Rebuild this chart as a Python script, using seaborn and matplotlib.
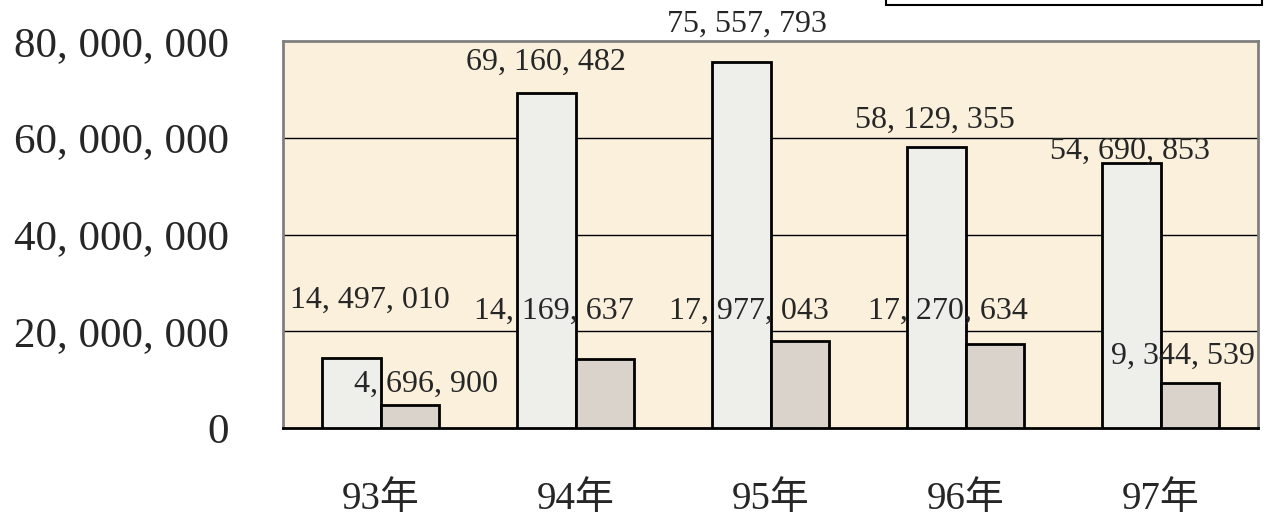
import pandas as pd
import matplotlib.pyplot as plt
import seaborn as sns
from matplotlib.patches import Rectangle

# 資料
years = ['93年', '94年', '95年', '96年', '97年']
series_a = [14497010, 69160482, 75557793, 58129355, 54690853]
series_b = [4696900, 14169637, 17977043, 17270634, 9344539]
yticks = [0, 20000000, 40000000, 60000000, 80000000]

df = pd.DataFrame({
    'year': years * 2,
    'value': series_a + series_b,
    'series': ['A'] * 5 + ['B'] * 5,
})

def fmt(v):
    return f'{v:,}'.replace(',', ', ')

sns.set_style('white')
plt.rcParams['font.family'] = ['Liberation Serif', 'Noto Sans CJK TC', 'DejaVu Sans']

fig = plt.figure(figsize=(12.65, 5.25), dpi=100)
ax = fig.add_axes([283 / 1265, 1 - 428 / 525, 975 / 1265, 387 / 525])
ax.set_facecolor('#FBF0DB')

sns.barplot(data=df, x='year', y='value', hue='series', order=years,
            palette=['#EEEEEB', '#DCD4C8'], width=0.6, gap=0,
            edgecolor='black', linewidth=2, legend=False, ax=ax, zorder=3)

ax.set_ylim(0, 80000000)
ax.set_xlim(-0.5, 4.5)
ax.set_yticks(yticks)
ax.set_yticklabels([fmt(v) if v else '0' for v in yticks], fontsize=31)
ax.tick_params(axis='y', length=0, pad=39)
ax.set_xticks(range(len(years)))
ax.set_xticklabels(years, fontsize=28)
ax.tick_params(axis='x', length=0, pad=38)
ax.set_xticks([i + 0.5 for i in range(len(years) - 1)], minor=True)
ax.tick_params(axis='x', which='minor', direction='in', length=10, width=1, color='#555555')
for v in yticks[1:-1]:
    ax.axhline(v, color='black', linewidth=1, zorder=1)
for s in ax.spines.values():
    s.set_color('#808080')
    s.set_linewidth(2)
ax.spines['bottom'].set_color('black')
ax.set_xlabel('')
ax.set_ylabel('')

# 數值標籤 (位置微調, 單位: 像素)
off_a = [(19, 58), (0, 31), (6, 38), (-1, 26), (-1, 12)]
off_b = [(16, 21), (-51, 48), (-51, 30), (-47, 33), (-7, 26)]
w = 0.3
for i, (va, vb) in enumerate(zip(series_a, series_b)):
    ax.annotate(fmt(va), (i - w / 2, va), xytext=off_a[i], textcoords='offset pixels',
                ha='center', va='center', fontsize=23, zorder=5)
    ax.annotate(fmt(vb), (i + w / 2, vb), xytext=off_b[i], textcoords='offset pixels',
                ha='center', va='center', fontsize=23, zorder=5)

# 圖例框 (被裁切)
fig.add_artist(Rectangle((886 / 1265, 1 - 5 / 525), (1262 - 886) / 1265, 0.05,
                         transform=fig.transFigure, facecolor='white',
                         edgecolor='black', linewidth=1.5))

fig.savefig('out.png', dpi=100)
